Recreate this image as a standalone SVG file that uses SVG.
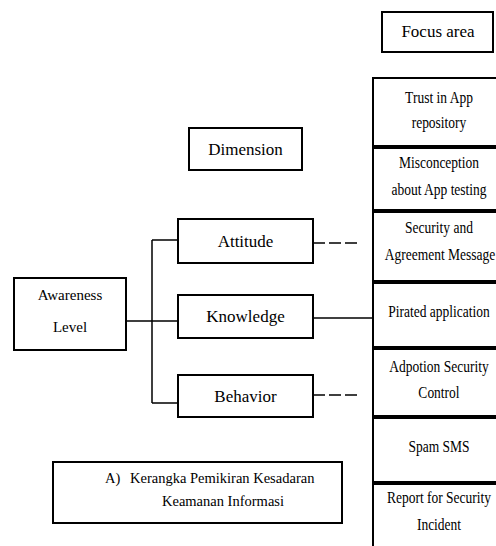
<svg xmlns="http://www.w3.org/2000/svg" width="496" height="546" viewBox="0 0 496 546">
<style>
.box{fill:#fff;stroke:#000;stroke-width:2}
.t{font-family:'Liberation Serif','DejaVu Serif Condensed','DejaVu Serif',serif;fill:#000;text-anchor:middle}
.big{font-size:17px}
.sm{font-size:13.5px}
.ln{stroke:#000;stroke-width:1.5;fill:none}
.dash{stroke-dasharray:12 4}
</style>
<rect width="496" height="546" fill="#fff"/>
<g id="connectors">
<path class="ln" d="M152 240 V403 M152 240 H178 M152 403 H178 M126 321 H178"/>
<path class="ln" d="M313 318 H373"/>
<path class="ln dash" d="M313 243 H359"/>
<path class="ln dash" d="M313 395 H359"/>
</g>
<g id="focus-area"><rect class="box" x="382" y="12" width="111" height="40"/><text class="t big" x="438" y="37">Focus area</text></g>
<g id="dimension"><rect class="box" x="189" y="128" width="113" height="42"/><text class="t big" x="245.5" y="155">Dimension</text></g>
<g id="awareness"><rect class="box" x="14" y="278" width="112" height="72"/><text class="t" font-size="15" x="70" y="300">Awareness</text><text class="t" font-size="15" x="70" y="332">Level</text></g>
<g id="attitude"><rect class="box" x="178" y="219" width="135" height="44"/><text class="t big" x="245.5" y="247">Attitude</text></g>
<g id="knowledge"><rect class="box" x="178" y="295" width="135" height="43"/><text class="t big" x="245.5" y="322">Knowledge</text></g>
<g id="behavior"><rect class="box" x="178" y="375" width="135" height="42"/><text class="t big" x="245.5" y="402">Behavior</text></g>
<g id="cell1"><rect class="box" x="373" y="78" width="140" height="68"/><text class="t sm" transform="translate(439,103) scale(1,1.2)">Trust in App</text><text class="t sm" transform="translate(439,128) scale(1,1.2)">repository</text></g>
<g id="cell2"><rect class="box" x="373" y="148" width="140" height="62"/><text class="t sm" transform="translate(439,168) scale(1,1.2)">Misconception</text><text class="t sm" transform="translate(439,195) scale(1,1.2)">about App testing</text></g>
<g id="cell3"><rect class="box" x="373" y="212" width="140" height="69"/><text class="t sm" transform="translate(439,233) scale(1,1.2)">Security and</text><text class="t sm" transform="translate(440,260) scale(1,1.2)">Agreement Message</text></g>
<g id="cell4"><rect class="box" x="373" y="283" width="140" height="64"/><text class="t sm" transform="translate(439,317) scale(1,1.2)">Pirated application</text></g>
<g id="cell5"><rect class="box" x="373" y="349" width="140" height="67"/><text class="t sm" transform="translate(439,372) scale(1,1.2)">Adpotion Security</text><text class="t sm" transform="translate(439,398) scale(1,1.2)">Control</text></g>
<g id="cell6"><rect class="box" x="373" y="418" width="140" height="64"/><text class="t sm" transform="translate(439,452) scale(1,1.2)">Spam SMS</text></g>
<g id="cell7"><rect class="box" x="373" y="484" width="140" height="80"/><text class="t sm" transform="translate(439,503) scale(1,1.2)">Report for Security</text><text class="t sm" transform="translate(439,530) scale(1,1.2)">Incident</text></g>
<g id="caption"><rect class="box" x="53" y="462" width="289" height="61"/>
<text class="t" font-size="14.5" x="105" y="483" style="text-anchor:start">A)</text>
<text class="t" font-size="14.5" x="130" y="483" style="text-anchor:start">Kerangka Pemikiran Kesadaran</text>
<text class="t" font-size="14.5" x="162" y="506" style="text-anchor:start">Keamanan Informasi</text></g>
</svg>
